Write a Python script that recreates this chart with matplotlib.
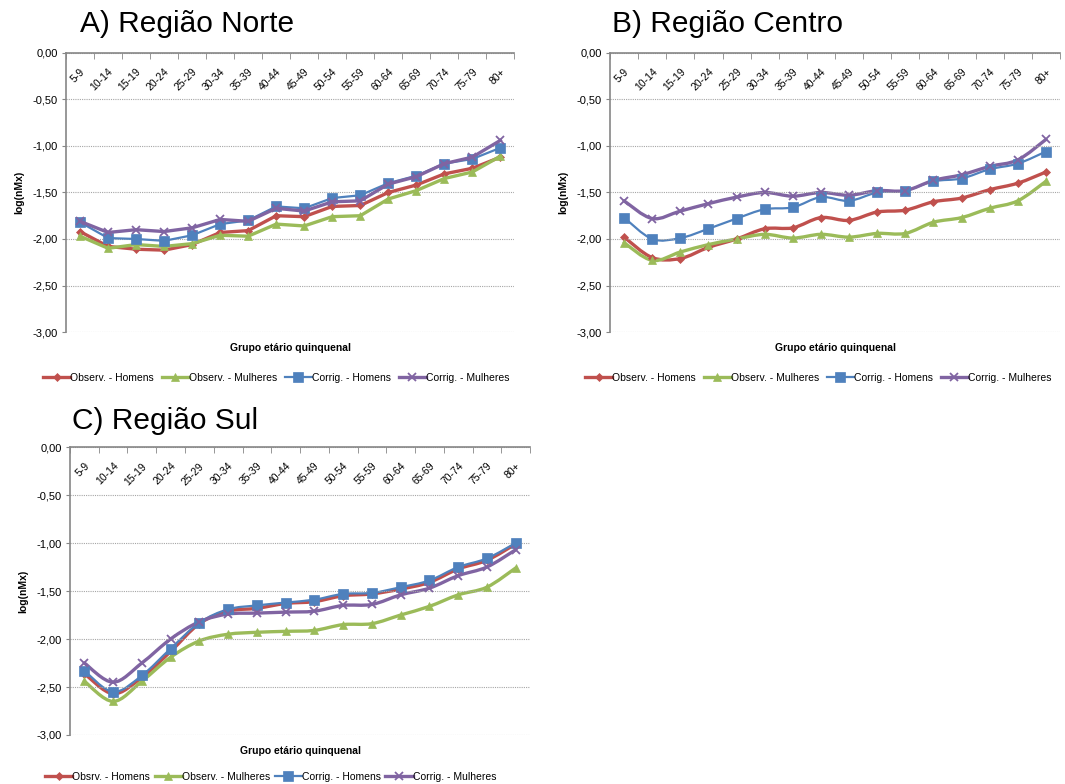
import matplotlib.pyplot as plt
import numpy as np
from matplotlib.path import Path
from matplotlib.patches import PathPatch
from matplotlib.lines import Line2D

plt.rcParams['font.family'] = ['Liberation Sans', 'DejaVu Sans']

grupos = ["5-9", "10-14", "15-19", "20-24", "25-29", "30-34", "35-39", "40-44",
          "45-49", "50-54", "55-59", "60-64", "65-69", "70-74", "75-79", "80+"]

# A) Regiao Norte
norte_obs_h = [-1.92, -2.08, -2.11, -2.12, -2.06, -1.93, -1.91, -1.75,
               -1.76, -1.65, -1.64, -1.50, -1.42, -1.30, -1.24, -1.12]
norte_obs_m = [-1.97, -2.10, -2.06, -2.08, -2.05, -1.96, -1.97, -1.84,
               -1.86, -1.76, -1.75, -1.57, -1.48, -1.35, -1.28, -1.11]
norte_cor_h = [-1.82, -1.99, -2.00, -2.02, -1.96, -1.84, -1.80, -1.65,
               -1.67, -1.56, -1.53, -1.40, -1.32, -1.19, -1.14, -1.02]
norte_cor_m = [-1.81, -1.93, -1.90, -1.92, -1.88, -1.79, -1.81, -1.67,
               -1.70, -1.60, -1.59, -1.41, -1.33, -1.19, -1.12, -0.94]

# B) Regiao Centro
centro_obs_h = [-1.98, -2.20, -2.21, -2.09, -2.00, -1.89, -1.88, -1.77,
                -1.80, -1.71, -1.69, -1.60, -1.56, -1.47, -1.40, -1.28]
centro_obs_m = [-2.04, -2.23, -2.14, -2.06, -2.00, -1.95, -1.99, -1.95,
                -1.98, -1.94, -1.94, -1.82, -1.77, -1.67, -1.59, -1.38]
centro_cor_h = [-1.77, -2.00, -1.99, -1.89, -1.78, -1.68, -1.66, -1.55,
                -1.59, -1.50, -1.48, -1.38, -1.35, -1.25, -1.19, -1.06]
centro_cor_m = [-1.59, -1.78, -1.70, -1.62, -1.55, -1.50, -1.54, -1.50,
                -1.53, -1.48, -1.48, -1.37, -1.31, -1.22, -1.15, -0.93]

# C) Regiao Sul
sul_obs_h = [-2.36, -2.57, -2.40, -2.13, -1.84, -1.71, -1.68, -1.63,
             -1.61, -1.55, -1.53, -1.48, -1.41, -1.27, -1.18, -1.01]
sul_obs_m = [-2.44, -2.65, -2.44, -2.19, -2.02, -1.95, -1.93, -1.92,
             -1.91, -1.85, -1.84, -1.75, -1.66, -1.54, -1.46, -1.26]
sul_cor_h = [-2.33, -2.55, -2.38, -2.10, -1.83, -1.69, -1.65, -1.62,
             -1.59, -1.53, -1.52, -1.46, -1.39, -1.25, -1.16, -1.00]
sul_cor_m = [-2.25, -2.45, -2.25, -2.00, -1.82, -1.74, -1.73, -1.72,
             -1.71, -1.65, -1.64, -1.54, -1.47, -1.34, -1.25, -1.07]

series_names = ["Observ. - Homens", "Observ. - Mulheres",
                "Corrig. - Homens", "Corrig. - Mulheres"]
series_names_sul = ["Obsrv. - Homens", "Observ. - Mulheres",
                    "Corrig. - Homens", "Corrig. - Mulheres"]
colors = ["#C0504D", "#9BBB59", "#4F81BD", "#8064A2"]
markers = ["D", "^", "s", "x"]
msizes = [4, 6, 6.5, 6]
lwidths = [2.4, 2.4, 1.6, 2.4]

yticks = [0, -0.5, -1, -1.5, -2, -2.5, -3]
ytick_labels = ["0,00", "-0,50", "-1,00", "-1,50", "-2,00", "-2,50", "-3,00"]


def smooth_path(xs, ys):
    # Excel-like smoothed line: cubic Bezier segments through the data points
    pts = np.column_stack([xs, ys]).astype(float)
    verts = [pts[0]]
    codes = [Path.MOVETO]
    n = len(pts)
    for i in range(n - 1):
        p0 = pts[max(i - 1, 0)]
        p1 = pts[i]
        p2 = pts[i + 1]
        p3 = pts[min(i + 2, n - 1)]
        verts += [p1 + (p2 - p0) / 6, p2 - (p3 - p1) / 6, p2]
        codes += [Path.CURVE4] * 3
    return Path(verts, codes)


W, H = 1065, 784
fig = plt.figure(figsize=(W / 100, H / 100), dpi=100)

# title (x, baseline y) and legend (left x, centre y) in pixels
panels = [
    ("A) Região Norte", [0.062, 0.5765, 0.421, 0.356],
     [norte_obs_h, norte_obs_m, norte_cor_h, norte_cor_m], series_names,
     (80, 32), (43, 378), False, 0.75),
    ("B) Região Centro", [0.5728, 0.5765, 0.4225, 0.356],
     [centro_obs_h, centro_obs_m, centro_cor_h, centro_cor_m], series_names,
     (612, 32), (585, 378), True, 0.75),
    ("C) Região Sul", [0.0657, 0.0625, 0.432, 0.3673],
     [sul_obs_h, sul_obs_m, sul_cor_h, sul_cor_m], series_names_sul,
     (72, 429), (45, 777), True, 0.45),
]

x = np.arange(len(grupos))
for title, rect, data, names, tpos, lpos, smooth, colsp in panels:
    ax = fig.add_axes(rect)
    handles = []
    for vals, name, c, m, ms, lw in zip(data, names, colors, markers, msizes, lwidths):
        mew = 1.3 if m == "x" else 0.5
        if smooth:
            ax.add_patch(PathPatch(smooth_path(x, vals), facecolor="none",
                                   edgecolor=c, linewidth=lw, capstyle="round"))
            ax.plot(x, vals, linestyle="none", color=c, marker=m,
                    markersize=ms, markeredgewidth=mew)
        else:
            ax.plot(x, vals, color=c, marker=m, markersize=ms, linewidth=lw,
                    markeredgewidth=mew)
        handles.append(Line2D([], [], color=c, marker=m, markersize=ms,
                              linewidth=lw, markeredgewidth=mew, label=name))

    ax.set_xlim(-0.5, len(grupos) - 0.5)
    ax.set_ylim(-3, 0)
    ax.set_yticks(yticks)
    ax.set_yticklabels(ytick_labels)
    ax.yaxis.grid(True, linestyle=(0, (1, 1)), color="#A6A6A6", linewidth=0.8)
    ax.tick_params(axis="y", direction="out", length=3, color="#868686",
                   labelsize=8, pad=3)

    # category axis at the top (0,00)
    ax.xaxis.tick_top()
    ax.set_xticks(np.arange(-0.5, len(grupos)), minor=True)
    ax.set_xticks([])
    ax.tick_params(axis="x", which="minor", direction="in", length=4,
                   color="#868686", top=True, bottom=False)
    for i, g in enumerate(grupos):
        ax.annotate(g, xy=(i, 1), xycoords=("data", "axes fraction"),
                    xytext=(5, -10), textcoords="offset points",
                    rotation=45, ha="right", va="top", fontsize=7.5)

    for side in ["right", "bottom"]:
        ax.spines[side].set_visible(False)
    ax.spines["top"].set_color("#868686")
    ax.spines["top"].set_linewidth(1.2)
    ax.spines["left"].set_color("#868686")
    ax.spines["left"].set_linewidth(1.2)

    ax.set_ylabel("log(nMx)", fontsize=7.5, fontweight="bold", labelpad=6)
    ax.set_xlabel("Grupo etário quinquenal", fontsize=7.5, fontweight="bold", labelpad=8)

    fig.text(tpos[0] / W, 1 - tpos[1] / H, title, fontsize=21.5,
             ha="left", va="baseline")

    fig.legend(handles=handles, loc="center left",
               bbox_to_anchor=(lpos[0] / W, 1 - lpos[1] / H), ncol=4,
               frameon=False, fontsize=7.5, handlelength=2.6, handletextpad=0.0,
               columnspacing=colsp, borderaxespad=0, borderpad=0)

fig.savefig("out.png", dpi=100)
